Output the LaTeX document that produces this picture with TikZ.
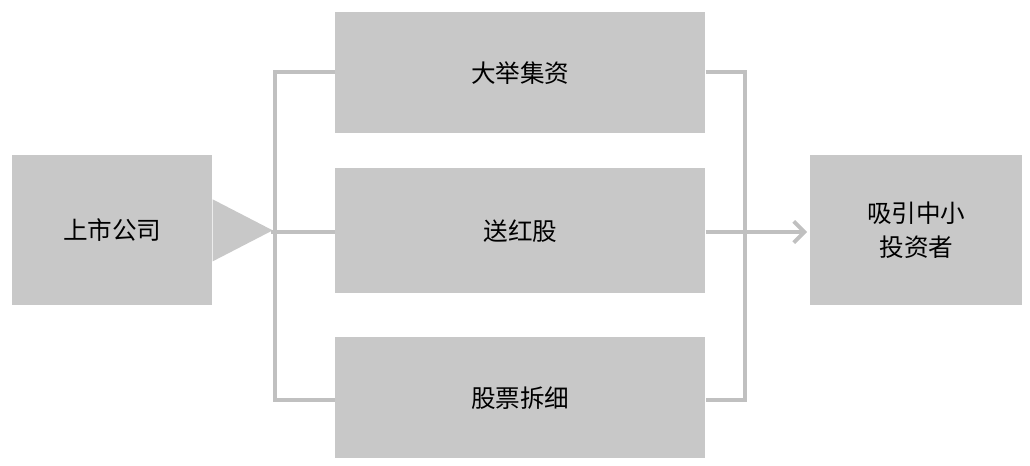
\documentclass[tikz,border=0pt]{standalone}
\usepackage{fontspec}
\newfontfamily\cjk{Noto Sans CJK SC}
\usetikzlibrary{arrows.meta,calc}
\definecolor{boxg}{HTML}{C8C8C8}
\definecolor{lineg}{HTML}{C0C0C0}
\begin{document}
\begin{tikzpicture}[x=0.02cm,y=-0.02cm,
  box/.style={fill=boxg,draw=none,inner sep=0pt,anchor=north west,align=center,font=\cjk\fontsize{14}{19}\selectfont},
  conn/.style={draw=lineg,line width=2.2pt}]
\useasboundingbox (0,0) rectangle (1030,466);
\node[box,minimum width=200*0.02cm,minimum height=150*0.02cm] (src) at (12,155) {上市公司};
\node[box,minimum width=370*0.02cm,minimum height=121*0.02cm] (t) at (335,12) {大举集资};
\node[box,minimum width=370*0.02cm,minimum height=125*0.02cm] (m) at (335,168) {送红股};
\node[box,minimum width=370*0.02cm,minimum height=121*0.02cm] (b) at (335,337) {股票拆细};
\node[box,minimum width=212*0.02cm,minimum height=150*0.02cm] (dst) at (810,155) {吸引中小\\投资者};
\fill[boxg] (src.east) ++(0,-31) -- ++(60,31) -- ++(-60,31) -- cycle;
\coordinate (lt) at (275,72); \coordinate (lb) at (275,400); \coordinate (lm) at (275,232);
\coordinate (rt) at (745,72); \coordinate (rb) at (745,400);
\draw[conn] (t.west|-lt) -- (lt) -- (lb) -- (b.west|-lb);
\draw[conn] (src.east|-lm) ++(58,0) -- (m.west|-lm);
\draw[conn] (t.east|-rt) -- (rt) -- (rb) -- (b.east|-rb);
\draw[conn,-{Straight Barb[length=6pt,width=12pt]}] (m.east|-lm) -- ($(dst.west|-lm)+(-3,0)$);
\end{tikzpicture}
\end{document}
